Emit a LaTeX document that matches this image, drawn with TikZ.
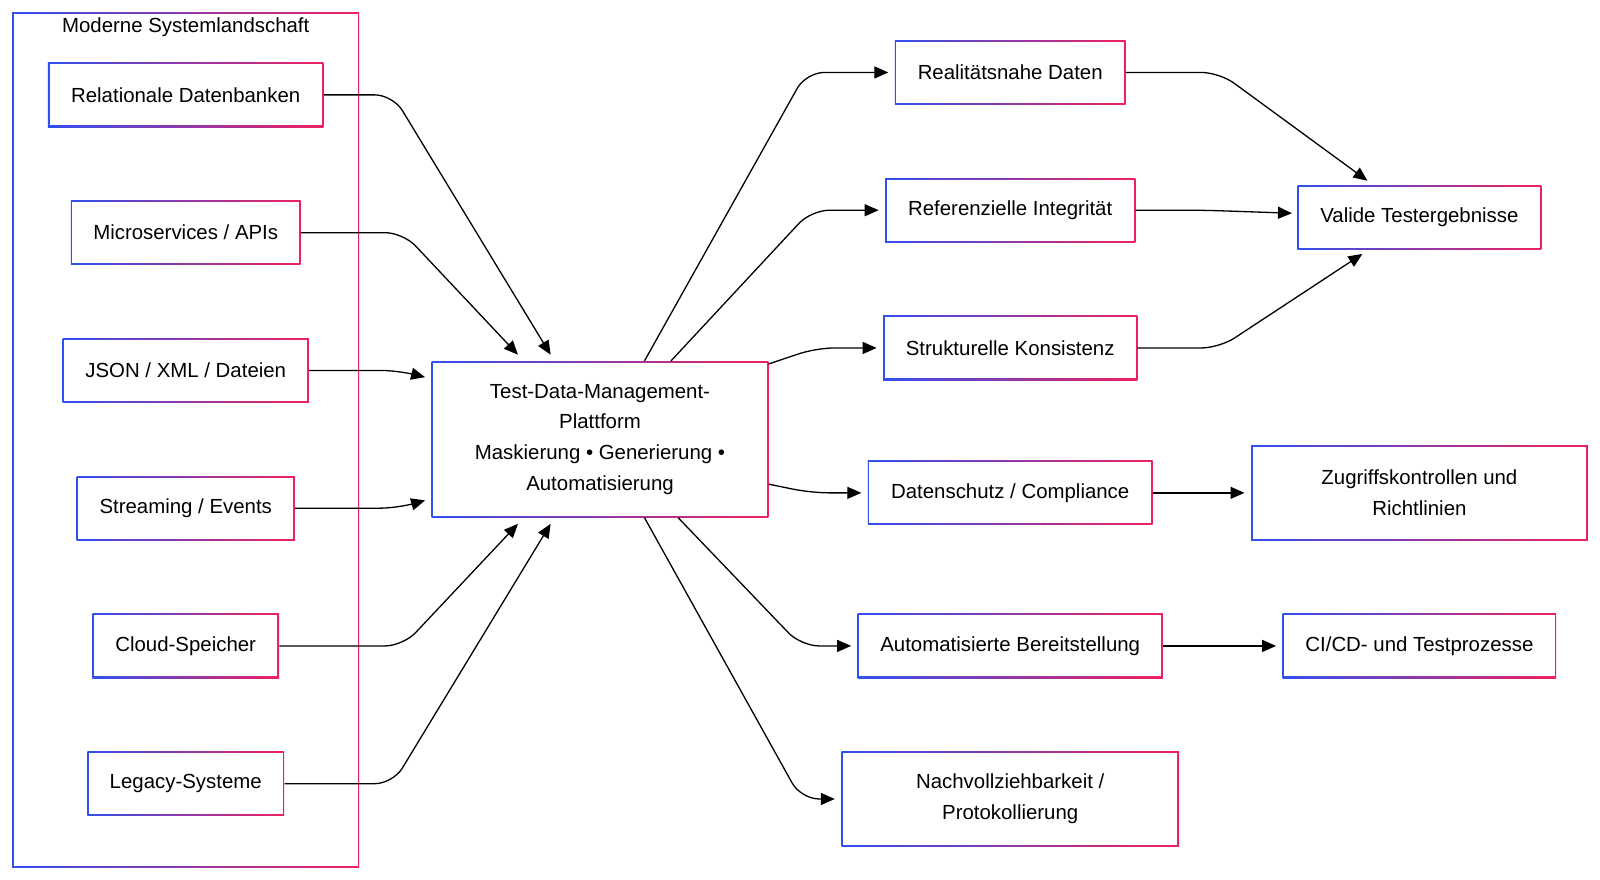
\documentclass[tikz,border=0pt]{standalone}
\usepackage{fontspec}
\setmainfont{Liberation Sans}
\usetikzlibrary{positioning,calc,arrows.meta}
\definecolor{bl}{HTML}{3050F0}
\definecolor{pk}{HTML}{F02060}
\begin{document}
\begin{tikzpicture}[x=0.51pt, y=-0.51pt, font=\fontsize{10.2}{15.3}\selectfont]

        % Gradient framed boxes
        \tikzset{
            box/.style={rectangle, minimum height=32.1pt, inner sep=0pt,
                align=center, left color=bl, right color=pk,
                path picture={\fill[white]
                    ($(path picture bounding box.south west)+(0.8pt,0.8pt)$)
                    rectangle
                    ($(path picture bounding box.north east)-(0.8pt,0.8pt)$);}},
            link/.style={-{Triangle[length=7pt,width=6pt]}, line width=0.65pt,
                rounded corners=9pt}
        }

        % Container
        \shade[left color=bl, right color=pk] (12,12) rectangle (352,850);
        \fill[white] (13.6,13.6) rectangle (350.4,848.4);
        \node (title) at (182,27) {Moderne Systemlandschaft};

        % Sources
        \node[box, minimum width=137.7pt] (rel) at (182,93) {Relationale Datenbanken};
        \node[box, minimum width=114.8pt] (mic) at (182,228) {Microservices / APIs};
        \node[box, minimum width=123pt] (json) at (182,363) {JSON / XML / Dateien};
        \node[box, minimum width=109pt] (str) at (182,498) {Streaming / Events};
        \node[box, minimum width=93.3pt] (cld) at (182,633) {Cloud-Speicher};
        \node[box, minimum width=98.4pt] (leg) at (182,768) {Legacy-Systeme};

        % Platform
        \node[box, minimum width=168.3pt, minimum height=78pt] (tdm) at (588,430.5)
            {Test-Data-Management-\\Plattform\\Maskierung • Generierung •\\Automatisierung};

        % Properties
        \node[box, minimum width=115.3pt] (real) at (990,71) {Realitätsnahe Daten};
        \node[box, minimum width=125pt] (ref) at (990,206) {Referenzielle Integrität};
        \node[box, minimum width=127pt] (struk) at (990,341) {Strukturelle Konsistenz};
        \node[box, minimum width=142.3pt] (ds) at (990,483) {Datenschutz / Compliance};
        \node[box, minimum width=152.5pt] (auto) at (990,633) {Automatisierte Bereitstellung};
        \node[box, minimum width=168.8pt, minimum height=47.4pt] (nach) at (990,783)
            {Nachvollziehbarkeit /\\Protokollierung};

        % Results
        \node[box, minimum width=121.9pt] (val) at (1391,213) {Valide Testergebnisse};
        \node[box, minimum width=168.3pt, minimum height=47.4pt] (zug) at (1391,483)
            {Zugriffskontrollen und\\Richtlinien};
        \node[box, minimum width=136.7pt] (ci) at (1391,633) {CI/CD- und Testprozesse};

        % Sources to platform
        \draw[link] (rel.east) -- (385,93) -- ($(tdm.north west)+(117,-6)$);
        \draw[link] (mic.east) -- (395,228) -- ($(tdm.north west)+(85,-6)$);
        \draw[link] (json.east) -- (390,363) -- ($(tdm.north west)+(-6,16)$);
        \draw[link] (str.east) -- (390,498) -- ($(tdm.south west)+(-6,-17)$);
        \draw[link] (cld.east) -- (395,633) -- ($(tdm.south west)+(85,6)$);
        \draw[link] (leg.east) -- (385,768) -- ($(tdm.south west)+(117,6)$);

        % Platform to properties
        \draw[link] ($(tdm.north west)+(209,0)$) -- (790,71) -- ($(real.west)+(-6,0)$);
        \draw[link] ($(tdm.north west)+(235,0)$) -- (795,206) -- ($(ref.west)+(-6,0)$);
        \draw[link] ($(tdm.north east)+(0,3)$) -- (800,341) -- ($(struk.west)+(-6,0)$);
        \draw[link] ($(tdm.east)+(0,44)$) -- (795,483) -- ($(ds.west)+(-6,0)$);
        \draw[link] ($(tdm.south west)+(242,0)$) -- (785,633) -- ($(auto.west)+(-6,0)$);
        \draw[link] ($(tdm.south west)+(209,0)$) -- (785,783) -- ($(nach.west)+(-6,0)$);

        % Properties to results
        \draw[link] (real.east) -- (1195,71) -- ($(val.north west)+(69,-4)$);
        \draw[link] (ref.east) -- (1180,206) -- ($(val.west)+(-5,-4)$);
        \draw[link] (struk.east) -- (1195,341) -- ($(val.south west)+(64,4)$);
        \draw[link] (ds.east) -- ($(zug.west)+(-6,0)$);
        \draw[link] (auto.east) -- ($(ci.west)+(-6,0)$);

        \pgfresetboundingbox
        \useasboundingbox (0,0) rectangle (1568,862);
        \end{tikzpicture}
\end{document}
